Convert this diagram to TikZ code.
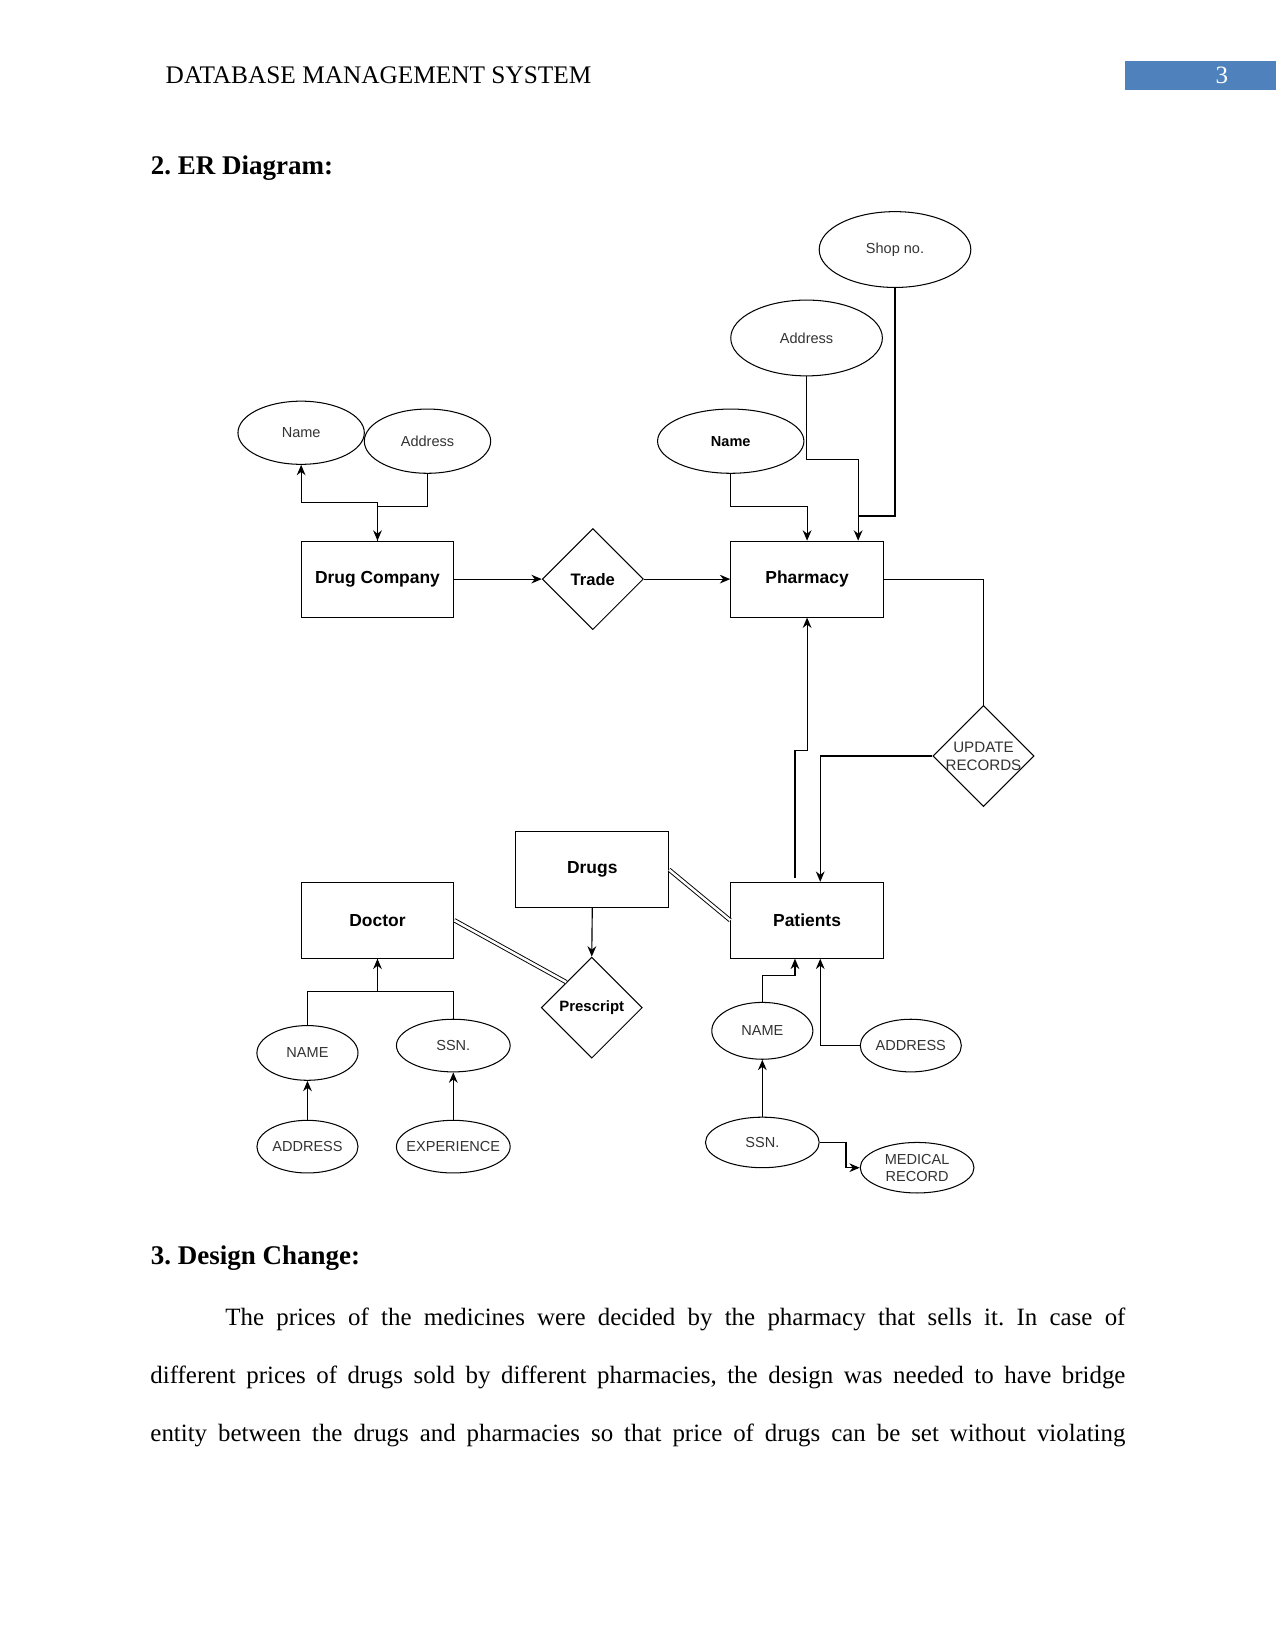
\documentclass[tikz,border=0pt]{standalone}
\usepackage{fontspec}
\setmainfont{Liberation Serif}
\newfontfamily\diafont{Liberation Sans}
\usetikzlibrary{shapes.geometric,arrows.meta}

\definecolor{hdrblue}{HTML}{4F81BD}
\definecolor{attrgray}{HTML}{333333}
\newcommand{\pxu}{0.5073pt}
\frenchspacing

\begin{document}
\begin{tikzpicture}[x=0.5073pt,y=-0.5073pt,font=\fontsize{12}{14}\selectfont,
  entity/.style={draw,line width=0.5pt,minimum width=145*\pxu,minimum height=72*\pxu,inner sep=0pt,
    font=\diafont\bfseries\fontsize{8.4}{10}\selectfont},
  attr/.style 2 args={draw,ellipse,line width=0.5pt,inner sep=0pt,align=center,text=attrgray,
    minimum width=#1*\pxu,minimum height=#2*\pxu,font=\diafont\fontsize{7}{8.2}\selectfont},
  rel/.style={draw,diamond,line width=0.5pt,inner sep=0pt,minimum width=96*\pxu,minimum height=96*\pxu,
    align=center,font=\diafont\bfseries\fontsize{8}{9.5}\selectfont},
  link/.style={line width=0.55pt,-{Stealth[length=5pt,width=4.2pt]}},
  plain/.style={line width=0.55pt},
  dbl/.style={double,double distance=1.2pt,line width=0.45pt},
  txt/.style={anchor=base west,inner sep=0pt},
  headtxt/.style={txt,font=\bfseries\fontsize{13}{15}\selectfont}]
\fill[white] (0,0) rectangle (1211,1568);
\useasboundingbox (0,0) rectangle (1211,1568);

% page head
\node[txt,font=\fontsize{12.2}{14}\selectfont] (hdr) at (157,79) {DATABASE MANAGEMENT SYSTEM};
\node[fill=hdrblue,anchor=north west,inner sep=0pt,minimum width=143*\pxu,minimum height=27*\pxu] (pgbox) at (1068,58) {};
\node[txt,text=white] (pgnum) at (1154,79) {3};
\node[headtxt] (sec2) at (143,166) {2. ER Diagram:};

% entities and relations
\node[entity] (dc) at (358.5,550) {Drug Company};
\node[rel] (trade) at (563,550) {Trade};
\node[entity] (pharm) at (766.5,550) {Pharmacy};
\node[rel,font=\diafont\fontsize{7.3}{8.6}\selectfont,text=attrgray] (upd) at (934,718)
  {\makebox[20pt]{UPDATE}\\\makebox[20pt]{RECORDS}};
\node[entity] (drugs) at (562.5,826) {Drugs};
\node[entity] (doctor) at (358.5,874) {Doctor};
\node[entity] (patients) at (766.5,874) {Patients};
\node[rel,font=\diafont\bfseries\fontsize{7.2}{8.6}\selectfont] (presc) at (562,957) {Prescript};

% attributes
\node[attr={120}{60}] (dcname) at (286,411) {Name};
\node[attr={120}{61}] (dcaddr) at (406,419) {Address};
\node[attr={139}{61},text=black,font=\diafont\bfseries\fontsize{7}{8.2}\selectfont] (phname) at (694,419) {Name};
\node[attr={144}{72}] (phaddr) at (766,321) {Address};
\node[attr={144}{72}] (shopno) at (850,237) {Shop no.};
\node[attr={96}{52}] (drname) at (292,1000) {NAME};
\node[attr={108}{50}] (drssn) at (430.5,993) {SSN.};
\node[attr={96}{50}] (draddr) at (292,1089) {ADDRESS};
\node[attr={108}{50}] (drexp) at (430.5,1089) {\makebox[30pt]{EXPERIENCE}};
\node[attr={96}{54}] (ptname) at (724,979) {NAME};
\node[attr={96}{50}] (ptaddr) at (865,993) {ADDRESS};
\node[attr={108}{48}] (ptssn) at (724,1085) {SSN.};
\node[attr={108}{48}] (ptmed) at (871,1109) {MEDICAL\\RECORD};

% connectors
\draw[link] (dc.north) -- ++(0,-36) -| (dcname.south);
\draw[link] (dcaddr.south) -- ++(0,31) -| (dc.north);
\draw[link] (dc.east) -- (trade.west);
\draw[link] (trade.east) -- (pharm.west);
\draw[link] (phname.south) -- ++(0,31) -| (pharm.north);
\draw[link] (phaddr.south) -- ++(0,79) -| ([xshift=48.5*\pxu]pharm.north);
\coordinate (shopjoin) at (815,490);
\draw[plain] (shopno.south) |- (shopjoin);
\draw[plain] (pharm.east) -| (upd.north);
\draw[link] (upd.west) -| ([xshift=12.5*\pxu]patients.north);
\draw[link] ([xshift=-11.5*\pxu,yshift=4*\pxu]patients.north) -- ++(0,-121) -| (pharm.south);
\draw[dbl] (drugs.east) -- (patients.west);
\draw[dbl] (doctor.east) -- (presc.north west);
\draw[link] (drugs.south) -- (presc.north);
\draw[link] (drname.north) -- ++(0,-32) -| (doctor.south);
\draw[plain] (drssn.north) -- ++(0,-26) -| (doctor.south);
\draw[link] (draddr.north) -- (drname.south);
\draw[link] (drexp.north) -- (drssn.south);
\draw[link] (ptname.north) -- ++(0,-25) -| ([xshift=-11.5*\pxu]patients.south);
\draw[link] (ptaddr.west) -| ([xshift=12.5*\pxu]patients.south);
\draw[link] (ptssn.north) -- (ptname.south);
\draw[link] (ptssn.east) -- ++(25,0) |- (ptmed.west);

% text below
\node[headtxt] (sec3) at (143,1201) {3. Design Change:};
\node[txt] (line1) at (213.7,1259) {\makebox[433.6pt][s]{The prices of the medicines were decided by the pharmacy that sells it. In case of}};
\node[txt] (line2) at (142.5,1314) {\makebox[469.75pt][s]{different prices of drugs sold by different pharmacies, the design was needed to have bridge}};
\node[txt] (line3) at (142.5,1369) {\makebox[469.75pt][s]{entity between the drugs and pharmacies so that price of drugs can be set without violating}};
\end{tikzpicture}
\end{document}
